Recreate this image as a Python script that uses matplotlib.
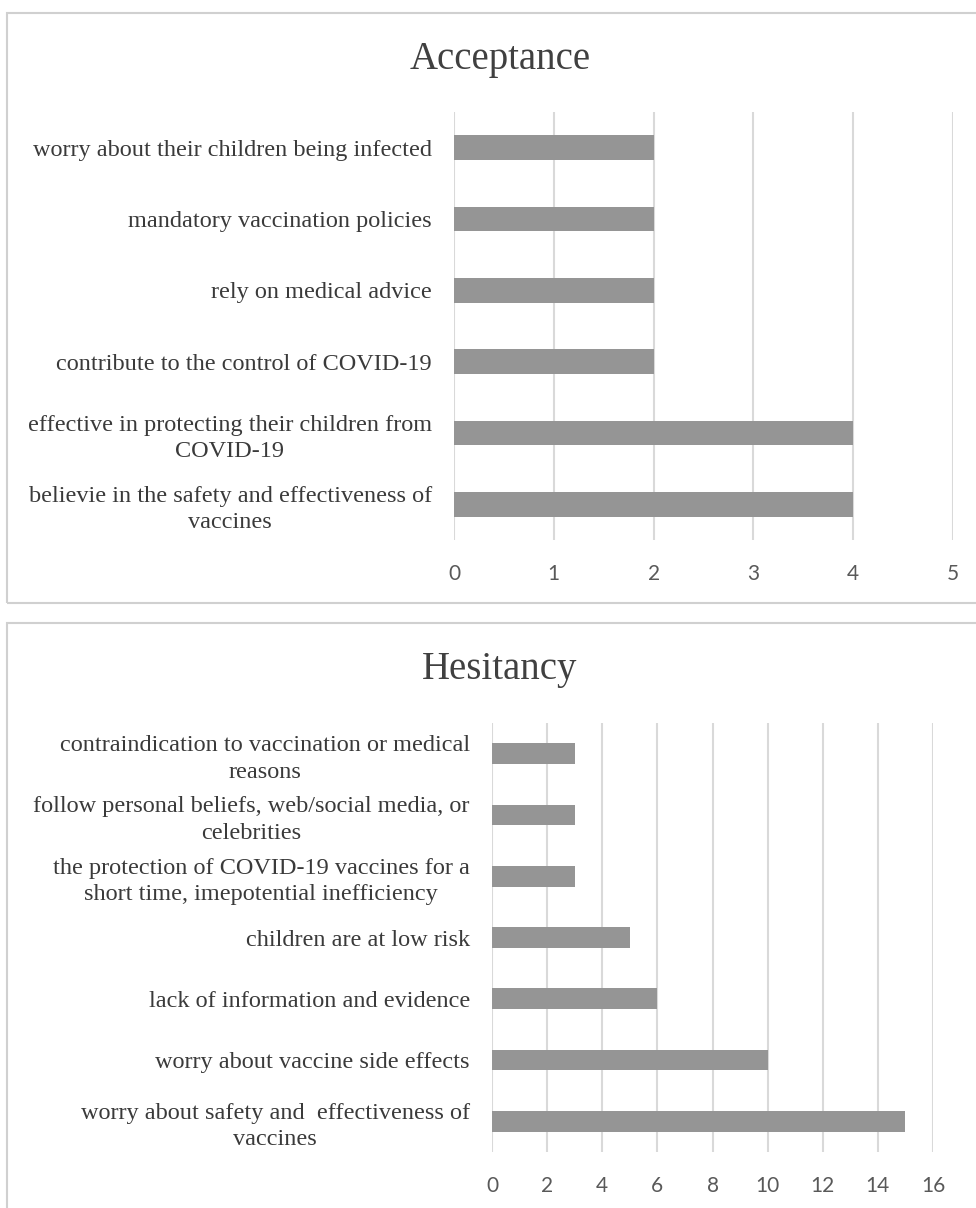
import matplotlib.pyplot as plt
from matplotlib.patches import Rectangle

# acceptance reasons (top to bottom)
acc_labels = ['worry about their children being infected',
              'mandatory vaccination policies',
              'rely on medical advice',
              'contribute to the control of COVID-19',
              'effective in protecting their children from\nCOVID-19',
              'believie in the safety and effectiveness of\nvaccines']
acc_values = [2, 2, 2, 2, 4, 4]
acc_ticks = [0, 1, 2, 3, 4, 5]

# hesitancy reasons (top to bottom)
hes_labels = ['contraindication to vaccination or medical\nreasons',
              'follow personal beliefs, web/social media, or\ncelebrities',
              'the protection of COVID-19 vaccines for a\nshort time, imepotential inefficiency',
              'children are at low risk',
              'lack of information and evidence',
              'worry about vaccine side effects',
              'worry about safety and  effectiveness of\nvaccines']
hes_values = [3, 3, 3, 5, 6, 10, 15]
hes_ticks = [0, 2, 4, 6, 8, 10, 12, 14, 16]

W, H = 976, 1208
fig = plt.figure(figsize=(W / 100, H / 100), dpi=100)

bar_col = '#959595'
grid_col = '#d9d9d9'


def px(x0, y0, x1, y1):
    # pixel box -> figure fraction [left, bottom, width, height]
    return [x0 / W, 1 - y1 / H, (x1 - x0) / W, (y1 - y0) / H]


def panel(box, title, title_y):
    # light frame round each chart
    fb = px(*box)
    fig.patches.append(Rectangle((fb[0], fb[1]), fb[2], fb[3], transform=fig.transFigure,
                                 fill=False, edgecolor='#d0d0d0', linewidth=1.5))
    fig.text(0.512, 1 - title_y / H, title, ha='center', va='center',
             family='Liberation Serif', fontsize=28, color='#404040')


def bars(ax, labels, values, ticks, height):
    y = list(range(len(labels)))
    ax.barh(y, values, height=height, color=bar_col, zorder=3)
    ax.set_ylim(len(labels) - 0.5, -0.5)
    ax.set_xlim(ticks[0], ticks[-1])
    ax.set_xticks(ticks)
    ax.set_yticks(y)
    ax.set_yticklabels(labels, family='Liberation Serif', fontsize=17.5, color='#3a3a3a',
                       linespacing=1.35)
    for t in ax.get_yticklabels():
        t.set_multialignment('center')
    ax.tick_params(axis='x', length=0, pad=17, labelsize=15, labelcolor='#595959')
    ax.tick_params(axis='y', length=0, pad=16)
    for t in ax.get_xticklabels():
        t.set_family('Lato')
    ax.grid(axis='x', color=grid_col, linewidth=1.5, zorder=0)
    for s in ax.spines.values():
        s.set_visible(False)


panel((7, 13, 1000, 603), 'Acceptance', 60)
ax1 = fig.add_axes(px(454, 112, 953, 540))
bars(ax1, acc_labels, acc_values, acc_ticks, 0.35)

panel((7, 623, 1000, 1230), 'Hesitancy', 670)
ax2 = fig.add_axes(px(492, 723, 933, 1152))
bars(ax2, hes_labels, hes_values, hes_ticks, 0.34)

fig.savefig('out.png', dpi=100)
